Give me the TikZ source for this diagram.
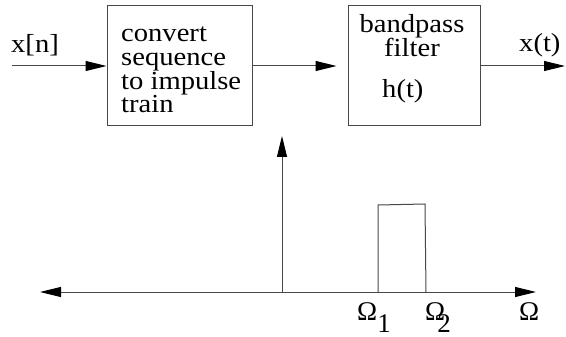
\documentclass[tikz,border=0pt]{standalone}
\usepackage{fontspec}
\setmainfont{Liberation Serif}[FakeStretch=1.1]
\newfontfamily\omfont{Liberation Serif}
\usetikzlibrary{arrows.meta}
\begin{document}
\begin{tikzpicture}[x=1pt,y=-1pt,
  line/.style={draw=black!72,line width=1pt},
  arr/.style={line,-{Triangle[length=21pt,width=10pt,color=black]}},
  blockbox/.style={line,minimum height=120pt,inner sep=0pt},
  txt/.style={inner sep=0pt,anchor=base west,font=\fontsize{26}{24}\selectfont},
  omtxt/.style={inner sep=0pt,anchor=base west,text depth=0pt,font=\omfont\fontsize{27}{27}\selectfont}]
\useasboundingbox (0,0) rectangle (566,337);
% blocks
\node[blockbox,minimum width=145pt] (b1) at (179.5,66) {};
\node[blockbox,minimum width=132pt] (b2) at (414,66) {};
% block 1 text
\node[txt,align=left,font=\fontsize{26}{23.7}\selectfont] (t1) at (121,113) {convert\\sequence\\to impulse\\train};
% block 2 text
\node[txt,anchor=base,align=center,font=\fontsize{26}{15.5}\selectfont] (u1) at (412,57) {bandpass\\filter};
\node[txt] (u3) at (382,98) {h(t)};
% signals
\coordinate (in) at (12,66);
\coordinate (out) at (565,66);
\node[txt] (xn) at (11,53) {x[n]};
\node[txt] (xt) at (519,52) {x(t)};
\draw[arr] (in) -- (b1.west);
\draw[arr,shorten >=11pt] (b1.east) -- (b2.west);
\draw[arr] (b2.east) -- (out);
% spectrum axes
\coordinate (axL) at (40,292);
\coordinate (axR) at (536,292);
\coordinate (org) at (282,292);
\coordinate (vtop) at (282,136);
\draw[line,{Triangle[length=21pt,width=10pt,color=black]}-{Triangle[length=21pt,width=10pt,color=black]}] (axL) -- (axR);
\draw[arr] (org) -- (vtop);
% band
\coordinate (r1) at (378,292);
\coordinate (r2) at (378,205);
\coordinate (r3) at (425,204);
\coordinate (r4) at (426,292);
\draw[line] (r1) -- (r2) -- (r3) -- (r4);
% labels
\node[omtxt] (o1) at (357,320) {Ω\raisebox{-12pt}{1}};
\node[omtxt] (o2) at (425,320) {Ω\kern-8pt\raisebox{-12pt}{2}};
\node[omtxt] (o3) at (519,320) {Ω};
\end{tikzpicture}
\end{document}
